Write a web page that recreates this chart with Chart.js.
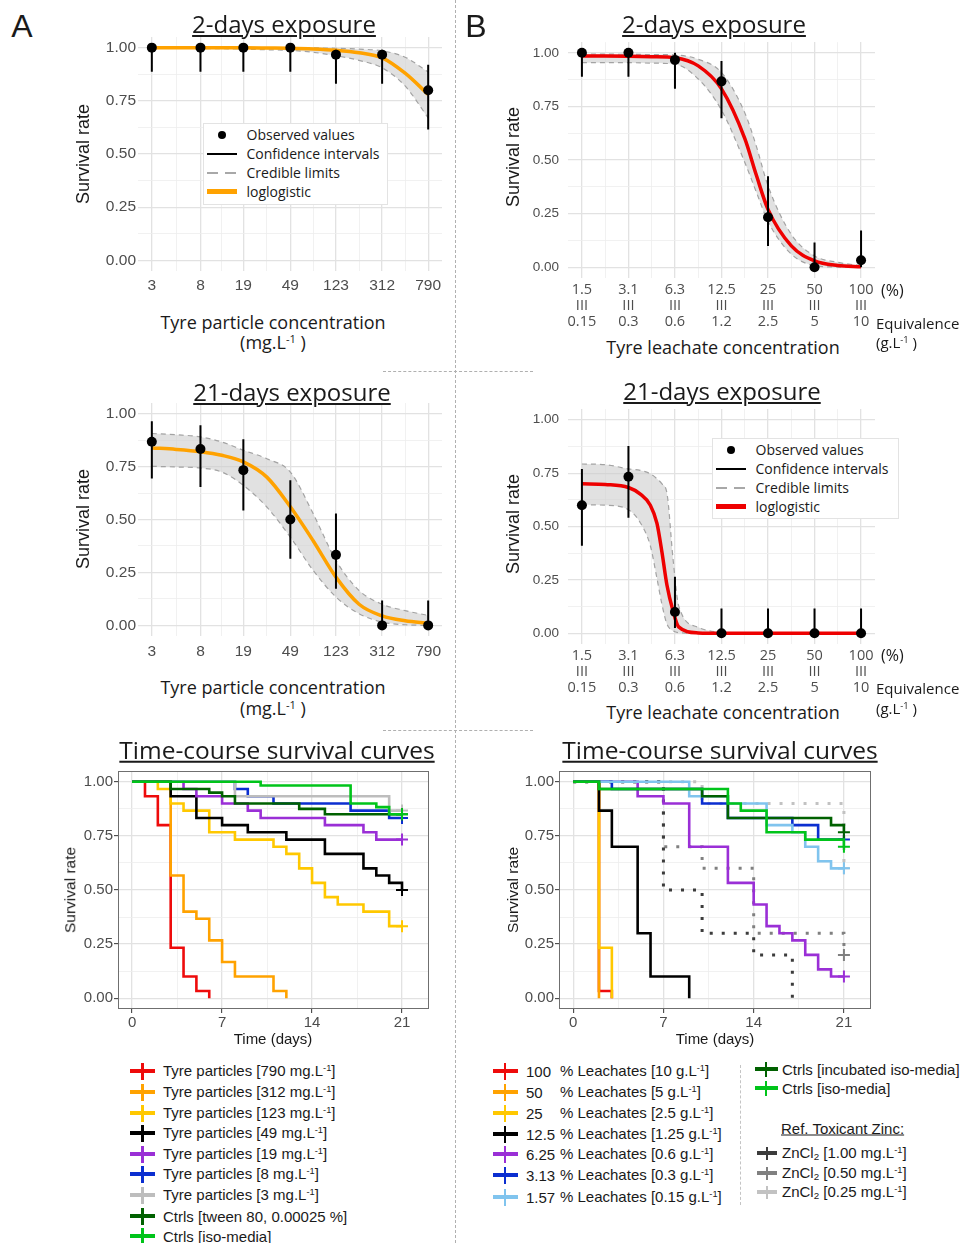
<!DOCTYPE html>
<html>
<head>
<meta charset="utf-8">
<title>Tyre particles and leachates - survival</title>
<script src="https://cdn.jsdelivr.net/npm/chart.js@4.4.1/dist/chart.umd.min.js"></script>
<style>
  body { margin: 0; background: #fff; }
  #fig { position: relative; width: 960px; height: 1243px; overflow: hidden; background: #fff; color: #1a1a1a; font-family: "Liberation Sans", Arial, sans-serif; }
  #fig canvas { position: absolute; }
  .lbl { position: absolute; white-space: nowrap; line-height: 1; }
  .c { transform: translate(-50%, -50%); }
  .l { transform: translate(0, -50%); }
  .rot { transform: translate(-50%, -50%) rotate(-90deg); }
  .ttl { font-family: "Open Sans", sans-serif; font-size: 24px; text-decoration: underline; text-decoration-thickness: 1.5px; text-underline-offset: 2px; }
  .ax { font-family: "Open Sans", sans-serif; font-size: 18px; }
  .sm { font-family: "Open Sans", sans-serif; font-size: 15px; }
  .lg { font-size: 15px; }
  .box { border: 1px solid #e3e3e3; background: #fff; }
  sup { font-size: 62%; vertical-align: 0; position: relative; top: -0.55em; }
  .vd { border-left: 1.3px dashed #b0b0b0; }
  .hd { border-top: 1.3px dashed #b0b0b0; }
</style>
</head>
<body>
<div id="fig"></div>
<script>
// ---------- data: panel A, tyre particles (mg/L) ----------
const tpConc = [3, 8, 19, 49, 123, 312, 790];
const tpMinor = [4.9, 12.3, 30.5, 77.6, 196, 496];
const tpLabels = ['3', '8', '19', '49', '123', '312', '790'];

const tpObs2d = [1, 1, 1, 1, 0.967, 0.967, 0.8];
const tpLo2d = [0.887, 0.887, 0.887, 0.887, 0.83, 0.83, 0.615];
const tpHi2d = [1, 1, 1, 1, 0.99, 0.99, 0.92];

const tpObs21 = [0.867, 0.833, 0.733, 0.5, 0.333, 0, 0];
const tpLo21 = [0.693, 0.654, 0.543, 0.315, 0.173, 0, 0];
const tpHi21 = [0.964, 0.945, 0.879, 0.685, 0.528, 0.118, 0.118];

// fitted loglogistic curve + credible band, read at these concentrations
const tpFitX = [3, 4.9, 8, 12.3, 19, 30.5, 49, 77.6, 123, 196, 312, 496, 790];
const tpFit2d = [1, 1, 1, 1, 0.999, 0.998, 0.997, 0.994, 0.988, 0.976, 0.952, 0.88, 0.78];
const tpUp2d = [1, 1, 1, 1, 1, 1, 1, 0.999, 0.997, 0.993, 0.985, 0.955, 0.885];
const tpDn2d = [0.998, 0.997, 0.996, 0.995, 0.993, 0.99, 0.987, 0.978, 0.962, 0.94, 0.905, 0.82, 0.67];
const tpFit21 = [0.838, 0.831, 0.82, 0.803, 0.772, 0.70, 0.56, 0.40, 0.228, 0.10, 0.045, 0.022, 0.011];
const tpUp21 = [0.906, 0.9, 0.89, 0.866, 0.827, 0.787, 0.724, 0.528, 0.307, 0.165, 0.10, 0.07, 0.047];
const tpDn21 = [0.751, 0.748, 0.743, 0.724, 0.661, 0.559, 0.417, 0.26, 0.134, 0.055, 0.016, 0.003, 0];

// ---------- data: panel B, tyre leachates (%) ----------
const lePct = [1.5625, 3.125, 6.25, 12.5, 25, 50, 100];
const leMinor = [2.21, 4.42, 8.84, 17.7, 35.4, 70.7];
const lePctLabels = ['1.5', '3.1', '6.3', '12.5', '25', '50', '100'];
const leEqLabels = ['0.15', '0.3', '0.6', '1.2', '2.5', '5', '10'];

const leObs2d = [1, 1, 0.967, 0.867, 0.233, 0, 0.033];
const leLo2d = [0.889, 0.889, 0.832, 0.695, 0.099, 0, 0];
const leHi2d = [1, 1, 1, 0.962, 0.424, 0.115, 0.171];
const leFitX2d = [1.5625, 2.21, 3.125, 4.42, 6.25, 8.84, 12.5, 17.7, 21, 25, 35.4, 50, 70.7, 100];
const leFit2d = [0.985, 0.985, 0.984, 0.982, 0.977, 0.939, 0.832, 0.60, 0.43, 0.27, 0.10, 0.03, 0.008, 0.002];
const leUp2d = [0.995, 0.994, 0.993, 0.992, 0.99, 0.97, 0.908, 0.72, 0.565, 0.38, 0.153, 0.053, 0.023, 0.008];
const leDn2d = [0.954, 0.954, 0.954, 0.952, 0.947, 0.878, 0.733, 0.489, 0.351, 0.214, 0.061, 0.008, 0.001, 0];

const leObs21 = [0.6, 0.733, 0.1, 0, 0, 0, 0];
const leLo21 = [0.41, 0.541, 0.025, 0, 0, 0, 0];
const leHi21 = [0.77, 0.877, 0.265, 0.116, 0.116, 0.116, 0.116];
const leFitX21 = [1.5625, 2.21, 3.125, 3.73, 4.33, 4.78, 5.15, 5.55, 6.07, 6.6, 8.84, 12.5, 25, 50, 100];
const leFit21 = [0.70, 0.697, 0.683, 0.652, 0.60, 0.515, 0.38, 0.225, 0.105, 0.03, 0.002, 0, 0, 0, 0];
const leUp21 = [0.793, 0.79, 0.77, 0.763, 0.747, 0.724, 0.70, 0.655, 0.35, 0.13, 0.028, 0.005, 0, 0, 0];
const leDn21 = [0.602, 0.60, 0.579, 0.518, 0.41, 0.257, 0.135, 0.043, 0.012, 0.003, 0, 0, 0, 0, 0];

// ---------- data: time-course (Kaplan-Meier), [day, survival] ----------
const km790 = [[0, 1], [1, 0.933], [2, 0.8], [3, 0.233], [4, 0.1], [5, 0.033], [6, 0]];
const km312 = [[0, 1], [3, 0.567], [4, 0.4], [5, 0.367], [6, 0.267], [7, 0.167], [8, 0.1], [11, 0.033], [12, 0]];
const km123 = [[0, 1], [2, 0.967], [3, 0.9], [4, 0.867], [6, 0.767], [8, 0.733], [11, 0.7], [12, 0.667], [13, 0.6], [14, 0.533], [15, 0.467], [16, 0.433], [18, 0.4], [20, 0.333], [21, 0.333]];
const km49 = [[0, 1], [3, 0.933], [5, 0.833], [7, 0.8], [9, 0.767], [12, 0.733], [15, 0.667], [18, 0.6], [19, 0.567], [20, 0.533], [21, 0.5]];
const km19 = [[0, 1], [4, 0.967], [5, 0.933], [7, 0.9], [9, 0.867], [10, 0.833], [15, 0.8], [18, 0.767], [19, 0.733], [21, 0.733]];
const km8 = [[0, 1], [8, 0.967], [9, 0.933], [11, 0.9], [17, 0.867], [20, 0.833], [21, 0.833]];
const km3 = [[0, 1], [8, 0.933], [20, 0.867], [21, 0.867]];
const kmTween = [[0, 1], [3, 0.967], [6, 0.95], [7, 0.933], [8, 0.9], [13, 0.875], [15, 0.85], [21, 0.85]];
const kmIsoA = [[0, 1], [10, 0.983], [17, 0.9], [19, 0.883], [20, 0.85], [21, 0.85]];

const kmL100 = [[0, 1], [2, 0.033], [3, 0]];
const kmL50 = [[0, 1], [2, 0]];
const kmL25 = [[0, 1], [2, 0.233], [3, 0]];
const kmL12 = [[0, 1], [2, 0.867], [3, 0.7], [5, 0.3], [6, 0.1], [9, 0]];
const kmL6 = [[0, 1], [5, 0.933], [7, 0.9], [9, 0.7], [12, 0.533], [14, 0.433], [15, 0.333], [16, 0.3], [17, 0.267], [18, 0.2], [19, 0.133], [20, 0.1], [21, 0.1]];
const kmL3 = [[0, 1], [3, 0.967], [10, 0.9], [12, 0.833], [17, 0.8], [19, 0.733], [21, 0.733]];
const kmL1 = [[0, 1], [9, 0.933], [12, 0.9], [15, 0.8], [17, 0.767], [18, 0.7], [19, 0.633], [20, 0.6], [21, 0.6]];
const kmIncub = [[0, 1], [2, 0.967], [10, 0.933], [12, 0.833], [20, 0.8], [21, 0.767]];
const kmIsoB = [[0, 1], [2, 0.967], [12, 0.9], [13, 0.867], [15, 0.767], [18, 0.733], [21, 0.7]];
const kmZn100 = [[0, 1], [7, 0.5], [10, 0.3], [14, 0.2], [17, 0]];
const kmZn050 = [[0, 1], [7, 0.7], [10, 0.6], [14, 0.3], [21, 0.2]];
const kmZn025 = [[0, 1], [10, 0.9], [21, 0.6]];

const kmLeftNames = ['790', '312', '123', '49', '19', '8', '3'];
const leachPctNames = ['100', '50', '25', '12.5', '6.25', '3.13', '1.57'];
const leachEqNames = ['10', '5', '2.5', '1.25', '0.6', '0.3', '0.15'];
const zincNames = ['1.00', '0.50', '0.25'];

const yMajor = [0, 0.25, 0.5, 0.75, 1];
const yMinor = [0.125, 0.375, 0.625, 0.875];
const dayMajor = [0, 7, 14, 21];
const dayMinor = [3.5, 10.5, 17.5];

// ---------- colours ----------
const RED = '#ee0b0b', ORANGE = '#ffa200', YELLOW = '#ffc800', PURPLE = '#9a2fd6',
      BLUE = '#0b2ed0', GREY = '#bdbdbd', DKGREEN = '#006100', GREEN = '#00c41a', SKY = '#80c4ee';

// ---------- helpers ----------
const fig = document.getElementById('fig');

function put(html, x, y, cls, css) {
  const d = document.createElement('div');
  d.className = 'lbl ' + (cls || 'c');
  d.innerHTML = html;
  d.style.left = x + 'px';
  d.style.top = y + 'px';
  if (css) d.style.cssText += css;
  fig.appendChild(d);
  return d;
}

function box(x, y, w, h, css, cls) {
  const d = document.createElement('div');
  if (cls) d.className = cls;
  d.style.cssText = `position:absolute;left:${x}px;top:${y}px;width:${w}px;height:${h}px;` + (css || '');
  fig.appendChild(d);
  return d;
}

function makeCanvas(r, yW, xH, padT, padR) {
  const c = document.createElement('canvas');
  c.width = r.r - r.l + yW + padR;
  c.height = r.b - r.t + padT + xH;
  c.style.left = (r.l - yW) + 'px';
  c.style.top = (r.t - padT) + 'px';
  fig.appendChild(c);
  return c;
}

function tickSet(majors, minors, labels) {
  const all = majors.map((v, i) => ({ value: v, major: true, label: labels[i] }))
    .concat(minors.map(v => ({ value: v, major: false, label: '' })));
  return all.sort((a, b) => a.value - b.value);
}

function axis(set, base, font, pad, size, isY, km) {
  const maj = c => set[c.index] && set[c.index].major;
  return Object.assign(base, {
    afterBuildTicks: s => { s.ticks = set.map(t => ({ value: t.value })); },
    afterFit: s => { if (isY) s.width = size; else s.height = size; },
    border: { display: false },
    grid: {
      color: c => maj(c) ? '#e2e2e2' : '#eeeeee',
      lineWidth: c => maj(c) ? 1.3 : 0.8,
      drawTicks: !!km,
      tickLength: 4,
      tickWidth: 1,
      tickColor: c => maj(c) ? '#333333' : 'rgba(0,0,0,0)'
    },
    ticks: {
      autoSkip: false, maxRotation: 0, minRotation: 0, padding: pad,
      color: '#4d4d4d', font: font,
      callback: (v, i) => set[i] ? set[i].label : ''
    }
  });
}

const pts = (xa, ya) => xa.map((x, i) => ({ x: x, y: ya[i] }));
const ySet = tickSet(yMajor, yMinor, yMajor.map(v => v.toFixed(2)));

function doseChart(r, o) {
  const cnv = makeCanvas(r, o.yW, o.xH, 12, 26);
  const xSet = tickSet(o.conc, o.minor, o.xLabels);
  const bars = [];
  o.conc.forEach((c, i) => { bars.push({ x: c, y: o.lo[i] }, { x: c, y: o.hi[i] }, { x: c, y: null }); });
  new Chart(cnv, {
    type: 'line',
    data: {
      datasets: [
        { data: pts(o.fitX, o.up), borderColor: '#a3a3a3', borderWidth: 1.2, borderDash: [5, 4],
          fill: '+1', backgroundColor: 'rgba(205,205,205,0.6)', pointRadius: 0,
          cubicInterpolationMode: 'monotone', order: 4 },
        { data: pts(o.fitX, o.down), borderColor: '#a3a3a3', borderWidth: 1.2, borderDash: [5, 4],
          fill: false, pointRadius: 0, cubicInterpolationMode: 'monotone', order: 3 },
        { data: pts(o.fitX, o.fit), borderColor: o.color, borderWidth: 3.5, fill: false,
          pointRadius: 0, cubicInterpolationMode: 'monotone', order: 2 },
        { data: bars, borderColor: '#000', borderWidth: 2, pointRadius: 0, spanGaps: false, fill: false, order: 1 },
        { data: pts(o.conc, o.obs), showLine: false, pointRadius: 5, pointBackgroundColor: '#000',
          pointBorderWidth: 0, order: 0 }
      ]
    },
    options: {
      responsive: false, animation: false, events: [],
      layout: { padding: { top: 12, right: 26, left: 0, bottom: 0 } },
      plugins: { legend: { display: false }, tooltip: { enabled: false } },
      scales: {
        x: axis(xSet, { type: 'logarithmic', min: o.min, max: o.max }, o.xFont, o.xPad, o.xH, false),
        y: axis(ySet, { type: 'linear', min: -0.05, max: 1.05 }, o.yFont, o.yPad, o.yW, true)
      }
    }
  });
}

const frame = {
  id: 'frame',
  afterDraw(ch) {
    const a = ch.chartArea, g = ch.ctx;
    g.save();
    g.strokeStyle = '#6f6f6f';
    g.lineWidth = 1;
    g.strokeRect(a.left + 0.5, a.top + 0.5, a.right - a.left - 1, a.bottom - a.top - 1);
    g.restore();
  }
};

function kmChart(r, series) {
  const cnv = makeCanvas(r, 50, 32, 12, 20);
  const xSet = tickSet(dayMajor, dayMinor, dayMajor.map(String));
  const datasets = series.map((s, k) => {
    const last = s.pts.length - 1;
    return {
      data: s.pts.map(p => ({ x: p[0], y: p[1] })),
      stepped: true, fill: false,
      borderColor: s.color, borderWidth: s.dash ? 3 : 2.6, borderDash: s.dash || [],
      borderJoinStyle: 'miter',
      pointStyle: 'cross', pointBorderColor: s.color, pointBorderWidth: 2,
      pointRadius: c => (c.index === last && s.pts[last][1] > 0) ? 6 : 0,
      order: -k
    };
  });
  new Chart(cnv, {
    type: 'line',
    data: { datasets: datasets },
    options: {
      responsive: false, animation: false, events: [],
      layout: { padding: { top: 12, right: 20, left: 0, bottom: 0 } },
      plugins: { legend: { display: false }, tooltip: { enabled: false } },
      scales: {
        x: axis(xSet, { type: 'linear', min: -1.1, max: 23.1 }, { family: 'Liberation Sans', size: 15 }, 1, 32, false, true),
        y: axis(ySet, { type: 'linear', min: -0.05, max: 1.05 }, { family: 'Liberation Sans', size: 15 }, 1, 50, true, true)
      }
    },
    plugins: [frame]
  });
}

// ---------- dose-response panels ----------
const fontA = { family: 'Liberation Sans', size: 15.5 };
const fontBx = { family: 'Open Sans', size: 14.5, lineHeight: 1.1 };
const fontBy = { family: 'Liberation Sans', size: 13.5 };
const leTickLabels = lePctLabels.map((p, i) => [p, 'III', leEqLabels[i]]);

doseChart({ l: 138, t: 37, r: 442, b: 271 }, {
  conc: tpConc, minor: tpMinor, xLabels: tpLabels, min: 2.27, max: 1044,
  obs: tpObs2d, lo: tpLo2d, hi: tpHi2d, fitX: tpFitX, fit: tpFit2d, up: tpUp2d, down: tpDn2d,
  color: ORANGE, yW: 60, xH: 30, xFont: fontA, yFont: fontA, xPad: 5, yPad: 2
});
doseChart({ l: 138, t: 403, r: 442, b: 636 }, {
  conc: tpConc, minor: tpMinor, xLabels: tpLabels, min: 2.27, max: 1044,
  obs: tpObs21, lo: tpLo21, hi: tpHi21, fitX: tpFitX, fit: tpFit21, up: tpUp21, down: tpDn21,
  color: ORANGE, yW: 60, xH: 30, xFont: fontA, yFont: fontA, xPad: 6, yPad: 2
});
doseChart({ l: 568, t: 37, r: 875, b: 278 }, {
  conc: lePct, minor: leMinor, xLabels: leTickLabels, min: 1.27, max: 123.1,
  obs: leObs2d, lo: leLo2d, hi: leHi2d, fitX: leFitX2d, fit: leFit2d, up: leUp2d, down: leDn2d,
  color: '#ee0000', yW: 55, xH: 56, xFont: fontBx, yFont: fontBy, xPad: 4, yPad: 9
});
doseChart({ l: 568, t: 404, r: 875, b: 644 }, {
  conc: lePct, minor: leMinor, xLabels: leTickLabels, min: 1.27, max: 123.1,
  obs: leObs21, lo: leLo21, hi: leHi21, fitX: leFitX21, fit: leFit21, up: leUp21, down: leDn21,
  color: '#ee0000', yW: 55, xH: 56, xFont: fontBx, yFont: fontBy, xPad: 4, yPad: 9
});

// ---------- time-course panels ----------
const leftColors = [RED, ORANGE, YELLOW, '#000000', PURPLE, BLUE, GREY, DKGREEN, GREEN];
const rightColors = [RED, ORANGE, YELLOW, '#000000', PURPLE, BLUE, SKY, DKGREEN, GREEN];
const zincColors = ['#3c3c3c', '#808080', '#c2c2c2'];

kmChart({ l: 118, t: 771, r: 429, b: 1009 },
  [km790, km312, km123, km49, km19, km8, km3, kmTween, kmIsoA].map((p, i) => ({ pts: p, color: leftColors[i] })));

kmChart({ l: 559, t: 771, r: 871, b: 1009 },
  [kmZn025, kmZn050, kmZn100].map((p, i) => ({ pts: p, color: zincColors[2 - i], dash: [3, 9] }))
    .concat([kmL100, kmL50, kmL25, kmL12, kmL6, kmL3, kmL1, kmIncub, kmIsoB].map((p, i) => ({ pts: p, color: rightColors[i] }))));

// ---------- dividers ----------
box(455, 0, 0, 1243, '', 'vd');
box(383, 371, 150, 0, '', 'hd');
box(383, 730, 150, 0, '', 'hd');

// ---------- text ----------
put('A', 22, 26, 'c', 'font-size:32px;');
put('B', 476, 26, 'c', 'font-size:32px;');

put('2-days exposure', 284, 24, 'c ttl');
put('2-days exposure', 714, 24, 'c ttl');
put('21-days exposure', 292, 392, 'c ttl');
put('21-days exposure', 722, 391, 'c ttl');
put('Time-course survival curves', 277, 750, 'c ttl', 'font-size:24.5px;');
put('Time-course survival curves', 720, 750, 'c ttl', 'font-size:24.5px;');

put('Survival rate', 83, 154, 'rot', 'font-size:18px;');
put('Survival rate', 83, 519, 'rot', 'font-size:18px;');
put('Survival rate', 513, 157, 'rot', 'font-size:18px;');
put('Survival rate', 513, 524, 'rot', 'font-size:18px;');
put('Survival rate', 70, 890, 'rot', 'font-size:15.5px;');
put('Survival rate', 513, 890, 'rot', 'font-size:15.5px;');

put('Tyre particle concentration', 273, 322, 'c ax');
put('(mg.L<sup>-1</sup> )', 273, 342, 'c ax');
put('Tyre particle concentration', 273, 687, 'c ax');
put('(mg.L<sup>-1</sup> )', 273, 708, 'c ax');

put('Tyre leachate concentration', 723, 347, 'c ax');
put('(%)', 881, 290, 'l sm', 'font-size:16px;');
put('Equivalence', 876, 323, 'l sm');
put('(g.L<sup>-1</sup> )', 876, 342, 'l sm');
put('Tyre leachate concentration', 723, 712, 'c ax');
put('(%)', 881, 655, 'l sm', 'font-size:16px;');
put('Equivalence', 876, 688, 'l sm');
put('(g.L<sup>-1</sup> )', 876, 708, 'l sm');

put('Time (days)', 273, 1038, 'c', 'font-size:15px;');
put('Time (days)', 715, 1038, 'c', 'font-size:15px;');

// ---------- dose-response legends ----------
function doseLegend(x, y, w, h, color) {
  box(x, y, w, h, '', 'box');
  const rows = [y + 11.5, y + 30.5, y + 49.5, y + 68.5];
  const kx = x + 19;
  box(kx - 4, rows[0] - 4, 8, 8, 'background:#000;border-radius:50%;');
  box(kx - 15, rows[1] - 1, 30, 2, 'background:#000;');
  box(kx - 15, rows[2] - 1, 30, 2, 'background:repeating-linear-gradient(90deg,#a8a8a8 0 11px,transparent 11px 18px);');
  box(kx - 15, rows[3] - 2.5, 30, 5, 'background:' + color + ';');
  ['Observed values', 'Confidence intervals', 'Credible limits', 'loglogistic'].forEach((t, i) => {
    put(t, x + 43.5, rows[i], 'l', 'font-family:"Open Sans",sans-serif;font-size:14px;');
  });
}
doseLegend(203, 123, 183, 80, ORANGE);
doseLegend(712, 438, 185, 79, '#ee0000');

// ---------- time-course legends ----------
function crossKey(x, y, color, w, hh) {
  box(x - w / 2, y - 1.75, w, 3.5, 'background:' + color + ';');
  box(x - 1.3, y - hh / 2, 2.6, hh, 'background:' + color + ';');
}
const rowsL = [1071, 1092, 1113, 1133, 1154, 1174, 1195, 1216, 1236];
kmLeftNames.forEach((n, i) => {
  crossKey(142.5, rowsL[i], leftColors[i], 25, 17);
  put('Tyre particles [' + n + ' mg.L<sup>-1</sup>]', 163, rowsL[i], 'l lg');
});
crossKey(142.5, rowsL[7], DKGREEN, 25, 17);
put('Ctrls [tween 80, 0.00025 %]', 163, rowsL[7], 'l lg');
crossKey(142.5, rowsL[8], GREEN, 25, 17);
put('Ctrls [iso-media]', 163, rowsL[8], 'l lg');

const rowsR = [1071, 1092, 1113, 1134, 1154, 1175, 1197];
leachPctNames.forEach((n, i) => {
  crossKey(505, rowsR[i], rightColors[i], 25, 17);
  put(n, 526, rowsR[i], 'l lg');
  put('% Leachates [' + leachEqNames[i] + ' g.L<sup>-1</sup>]', 560, rowsR[i], 'l lg');
});
box(740, 1065, 0, 140, 'border-left:1.2px dashed #c4c4c4;');
crossKey(766, 1069, DKGREEN, 23, 15);
put('Ctrls [incubated iso-media]', 782, 1069, 'l lg');
crossKey(766, 1088, GREEN, 23, 15);
put('Ctrls [iso-media]', 782, 1088, 'l lg');
put('Ref. Toxicant Zinc:', 781, 1128, 'l lg', 'text-decoration:underline;');
const rowsZ = [1153, 1173, 1192];
zincNames.forEach((n, i) => {
  crossKey(767, rowsZ[i], zincColors[i], 20, 13);
  put('ZnCl<span style="font-size:65%;position:relative;top:0.25em;">2</span> [' + n + ' mg.L<sup>-1</sup>]', 782, rowsZ[i], 'l lg');
});
</script>
</body>
</html>
